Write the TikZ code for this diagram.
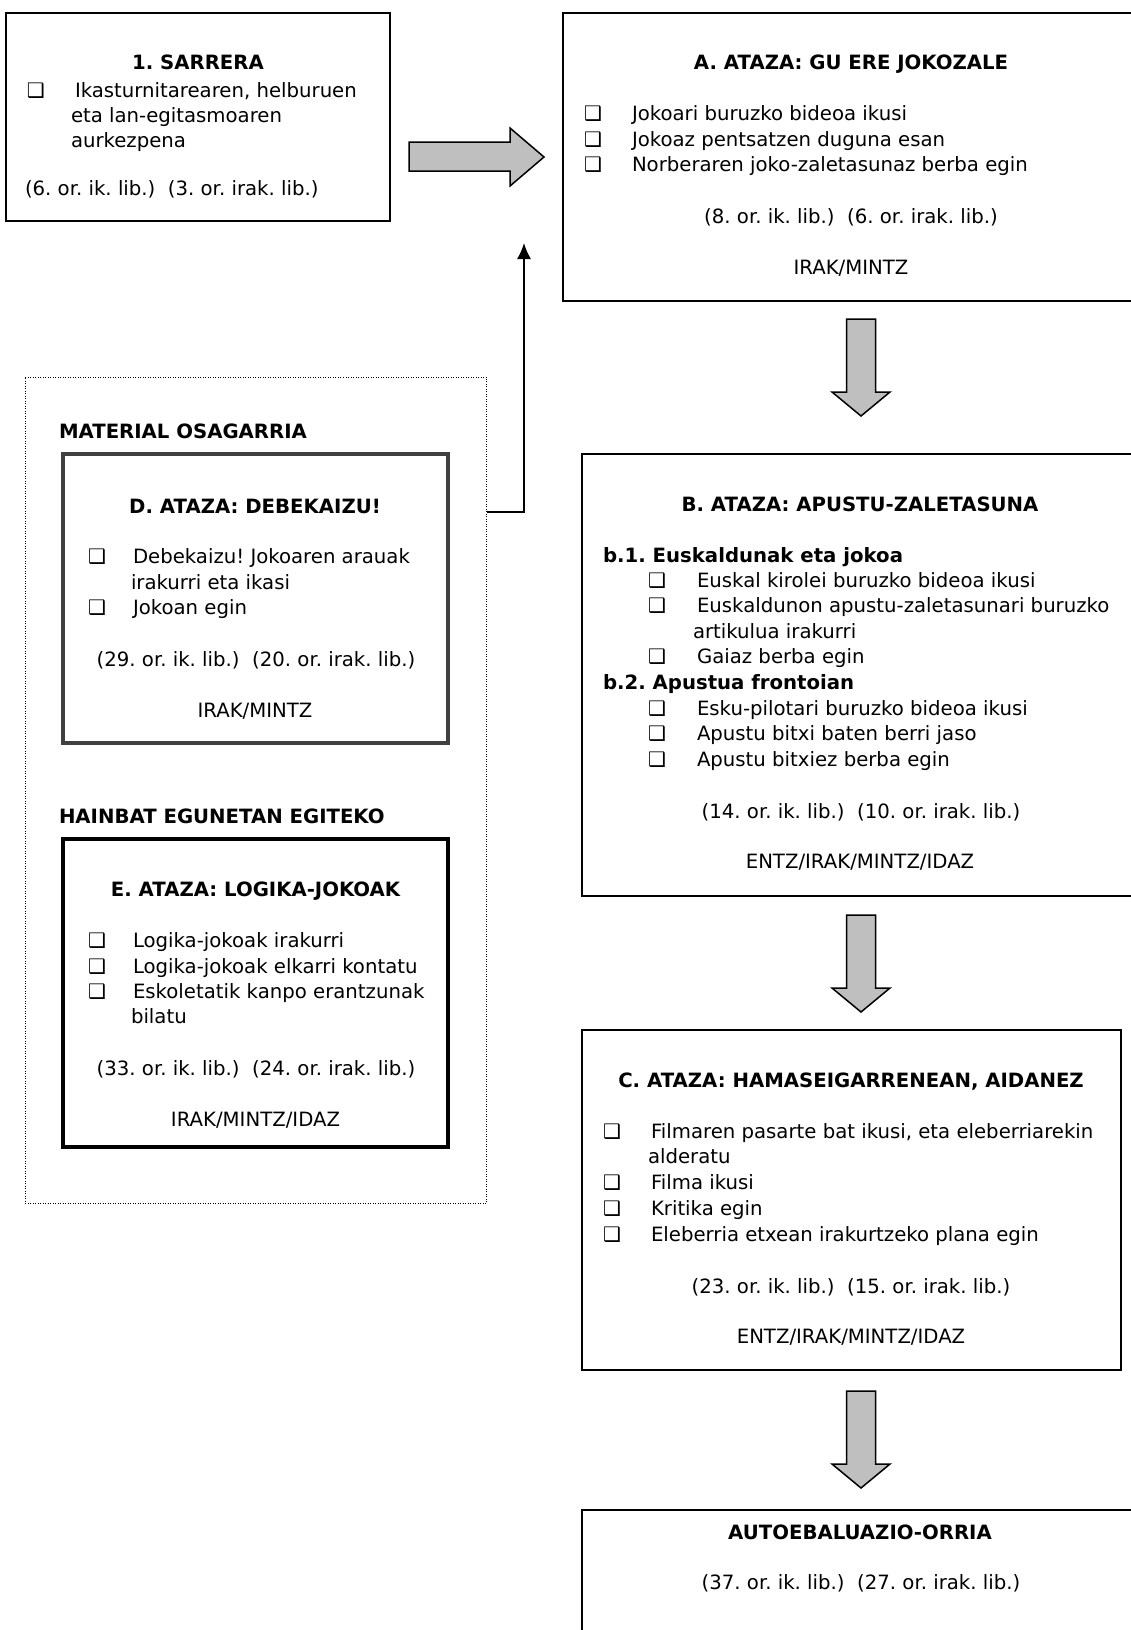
\documentclass[tikz,border=0pt]{standalone}
\usepackage{fontspec}
\setmainfont{DejaVu Sans}
\usetikzlibrary{arrows.meta}
\frenchspacing
\newcommand{\chk}{{\fontsize{20}{20}\selectfont\symbol{"2751}}}

\begin{document}
\begin{tikzpicture}[x=1pt, y=-1pt,
  every node/.style={inner sep=0pt, outer sep=0pt, font=\fontsize{19.7}{25.5}\selectfont},
  taskbox/.style={draw, line width=2pt, anchor=north west},
  extrabox/.style={draw, line width=4pt, anchor=north west},
  bigarrow/.style={draw, line width=1.5pt, fill=black!25, line join=miter},
  ttl/.style={anchor=base, font=\fontsize{19.7}{25.5}\selectfont\bfseries},
  sub/.style={anchor=base west, font=\fontsize{19.7}{25.5}\selectfont\bfseries},
  ln/.style={anchor=base west},
  mid/.style={anchor=base}]
\useasboundingbox (0,0) rectangle (1130,1630);

\node[taskbox, minimum width=384pt, minimum height=208pt] (sarrera) at (6,13) {};
\node[taskbox, minimum width=577pt, minimum height=288pt] (ataA) at (563,13) {};
\node[taskbox, minimum width=557pt, minimum height=442pt] (ataB) at (582,454) {};
\node[taskbox, minimum width=539pt, minimum height=340pt] (ataC) at (582,1030) {};
\node[taskbox, minimum width=557pt, minimum height=160pt] (autoeb) at (582,1510) {};
\node[draw, line width=1pt, dash pattern=on 1pt off 1.5pt, anchor=north west,
      minimum width=461.5pt, minimum height=826pt] (matbox) at (25,377) {};
\node[extrabox, draw=black!75, minimum width=385pt, minimum height=289pt] (ataD) at (63,454) {};
\node[extrabox, minimum width=385pt, minimum height=308pt] (ataE) at (63,839) {};

\draw[bigarrow] (409,142) -- (510,142) -- (510,128) -- (544,157) -- (510,186) -- (510,171) -- (409,171) -- cycle;
\draw[bigarrow] (846.5,319) -- ++(29,0) -- ++(0,73) -- ++(14.5,0) -- ++(-29,24) -- ++(-29,-24) -- ++(14.5,0) -- cycle;
\draw[bigarrow] (846.5,915) -- ++(29,0) -- ++(0,73) -- ++(14.5,0) -- ++(-29,24) -- ++(-29,-24) -- ++(14.5,0) -- cycle;
\draw[bigarrow] (846.5,1391) -- ++(29,0) -- ++(0,73) -- ++(14.5,0) -- ++(-29,24) -- ++(-29,-24) -- ++(14.5,0) -- cycle;

\coordinate (joinD) at (486.5,512);
\coordinate (tipA) at (524,243);
\draw[line width=1.5pt, -{Latex[length=16pt,width=14pt]}] (joinD) -| (tipA);

\node[ttl] (sarTtl) at (198,69) {1. SARRERA};
\node[ln] (sarChk) at (27,97) {\chk};
\node[ln] (sar1) at (75,97) {Ikasturnitarearen, helburuen};
\node[ln] (sar2) at (71,122) {eta lan-egitasmoaren};
\node[ln] (sar3) at (71,147) {aurkezpena};
\node[ln] (sarRef) at (25,195) {(6. or. ik. lib.)\ \ (3. or. irak. lib.)};

\node[ttl] (aTtl) at (851,69) {A. ATAZA: GU ERE JOKOZALE};
\node[ln] (aChk1) at (584,120) {\chk};
\node[ln] (aChk2) at (584,146) {\chk};
\node[ln] (aChk3) at (584,171) {\chk};
\node[ln] (a1) at (632,120) {Jokoari buruzko bideoa ikusi};
\node[ln] (a2) at (632,146) {Jokoaz pentsatzen duguna esan};
\node[ln] (a3) at (632,171) {Norberaren joko-zaletasunaz berba egin};
\node[mid] (aRef) at (851,223) {(8. or. ik. lib.)\ \ (6. or. irak. lib.)};
\node[mid] (aSkl) at (851,274) {IRAK/MINTZ};

\node[ttl] (bTtl) at (860,511) {B. ATAZA: APUSTU-ZALETASUNA};
\node[sub] (bSub1) at (603,562) {b.1. Euskaldunak eta jokoa};
\node[ln] (bChk1) at (648,587) {\chk};
\node[ln] (bChk2) at (648,612) {\chk};
\node[ln] (bChk3) at (648,663) {\chk};
\node[ln] (b1) at (697,587) {Euskal kirolei buruzko bideoa ikusi};
\node[ln] (b2) at (697,612) {Euskaldunon apustu-zaletasunari buruzko};
\node[ln] (b2b) at (693,638) {artikulua irakurri};
\node[ln] (b3) at (697,663) {Gaiaz berba egin};
\node[sub] (bSub2) at (603,689) {b.2. Apustua frontoian};
\node[ln] (bChk4) at (648,715) {\chk};
\node[ln] (bChk5) at (648,740) {\chk};
\node[ln] (bChk6) at (648,766) {\chk};
\node[ln] (b4) at (697,715) {Esku-pilotari buruzko bideoa ikusi};
\node[ln] (b5) at (697,740) {Apustu bitxi baten berri jaso};
\node[ln] (b6) at (697,766) {Apustu bitxiez berba egin};
\node[mid] (bRef) at (861,818) {(14. or. ik. lib.)\ \ (10. or. irak. lib.)};
\node[mid] (bSkl) at (860,868) {ENTZ/IRAK/MINTZ/IDAZ};

\node[ttl] (cTtl) at (851,1087) {C. ATAZA: HAMASEIGARRENEAN, AIDANEZ};
\node[ln] (cChk1) at (603,1138) {\chk};
\node[ln] (cChk2) at (603,1189) {\chk};
\node[ln] (cChk3) at (603,1215) {\chk};
\node[ln] (cChk4) at (603,1241) {\chk};
\node[ln] (c1) at (651,1138) {Filmaren pasarte bat ikusi, eta eleberriarekin};
\node[ln] (c1b) at (648,1163) {alderatu};
\node[ln] (c2) at (651,1189) {Filma ikusi};
\node[ln] (c3) at (651,1215) {Kritika egin};
\node[ln] (c4) at (651,1241) {Eleberria etxean irakurtzeko plana egin};
\node[mid] (cRef) at (851,1293) {(23. or. ik. lib.)\ \ (15. or. irak. lib.)};
\node[mid] (cSkl) at (851,1343) {ENTZ/IRAK/MINTZ/IDAZ};

\node[ttl] (autTtl) at (860,1539) {AUTOEBALUAZIO-ORRIA};
\node[mid] (autRef) at (861,1589) {(37. or. ik. lib.)\ \ (27. or. irak. lib.)};

\node[sub] (matTtl) at (59,438) {MATERIAL OSAGARRIA};
\node[ttl] (dTtl) at (255,513) {D. ATAZA: DEBEKAIZU!};
\node[ln] (dChk1) at (88,563) {\chk};
\node[ln] (dChk2) at (88,614) {\chk};
\node[ln] (d1) at (133,563) {Debekaizu! Jokoaren arauak};
\node[ln] (d1b) at (131,589) {irakurri eta ikasi};
\node[ln] (d2) at (133,614) {Jokoan egin};
\node[mid] (dRef) at (256,666) {(29. or. ik. lib.)\ \ (20. or. irak. lib.)};
\node[mid] (dSkl) at (255,717) {IRAK/MINTZ};

\node[sub] (hainTtl) at (59,823) {HAINBAT EGUNETAN EGITEKO};
\node[ttl] (eTtl) at (255.5,896) {E. ATAZA: LOGIKA-JOKOAK};
\node[ln] (eChk1) at (88,947) {\chk};
\node[ln] (eChk2) at (88,973) {\chk};
\node[ln] (eChk3) at (88,998) {\chk};
\node[ln] (e1) at (133,947) {Logika-jokoak irakurri};
\node[ln] (e2) at (133,973) {Logika-jokoak elkarri kontatu};
\node[ln] (e3) at (133,998) {Eskoletatik kanpo erantzunak};
\node[ln] (e3b) at (131,1023) {bilatu};
\node[mid] (eRef) at (256,1075) {(33. or. ik. lib.)\ \ (24. or. irak. lib.)};
\node[mid] (eSkl) at (255.5,1126) {IRAK/MINTZ/IDAZ};
\end{tikzpicture}
\end{document}
